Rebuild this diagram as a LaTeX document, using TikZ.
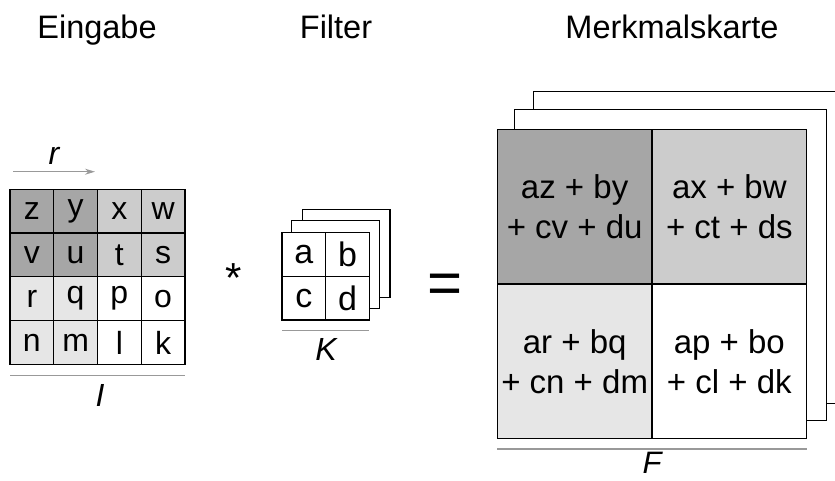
\documentclass[tikz,border=0pt]{standalone}
\usepackage{fontspec}
\setmainfont{Liberation Sans}
\usetikzlibrary{arrows.meta}
\definecolor{gdark}{HTML}{A6A6A6}
\definecolor{gmid}{HTML}{CCCCCC}
\definecolor{glight}{HTML}{E6E6E6}
\definecolor{rulegray}{HTML}{999999}
\tikzset{
  cellbox/.style={draw=black, line width=1.2pt, minimum width=#1, minimum height=#1,
    inner sep=0pt, anchor=center, font=\fontsize{32}{36}\selectfont},
  sheet/.style={draw=black, line width=1.2pt, fill=white},
  title/.style={font=\fontsize{32.5}{36}\selectfont, inner sep=0pt, anchor=base},
  dimlabel/.style={font=\fontsize{32}{36}\selectfont\itshape, inner sep=0pt, anchor=base},
  baseline rule/.style={draw=rulegray, line width=1.2pt},
  sumtext/.style={align=center, font=\fontsize{33}{40}\selectfont}
}
\begin{document}
\begin{tikzpicture}[x=1pt, y=-1pt]
\useasboundingbox (0,0) rectangle (835,481);
\clip (0,0) rectangle (835,481);

% headings
\node[title] (tin)  at (97,38.5) {Eingabe};
\node[title] (tfil) at (336,38.5) {Filter};
\node[title] (tout) at (672,38.5) {Merkmalskarte};

% ---- input I (4x4) ----
\def\cs{43.75}
\foreach \lab/\col/\r/\c in {z/gdark/0/0, y/gdark/0/1, x/gmid/0/2, w/gmid/0/3,
                             v/gdark/1/0, u/gdark/1/1, t/gmid/1/2, s/gmid/1/3,
                             r/glight/2/0, q/glight/2/1, p/white/2/2, o/white/2/3,
                             n/glight/3/0, m/glight/3/1, l/white/3/2, k/white/3/3}
  \node[cellbox=\cs pt, fill=\col] (in-\r-\c) at ({10+\cs*(\c+0.5)},{189.3+\cs*(\r+0.5)}) {\lab};

% stride arrow r
\coordinate (rs) at (13,171.7);
\coordinate (re) at (95,171.7);
\draw[draw=rulegray, line width=1.2pt, -{Stealth[length=10pt,width=6pt]}] (rs) -- (re);
\node[dimlabel] (rlab) at (54,165) {r};

% rule and label I
\coordinate (ia) at (10,375.7);
\coordinate (ib) at (185,375.7);
\draw[baseline rule] (ia) -- (ib);
\node[dimlabel] (ilab) at (100,406.5) {I};

% operator
\node[font=\fontsize{42}{42}\selectfont, inner sep=0pt] (star) at (234,278.5) {*};

% ---- filter K (stacked 2x2) ----
\draw[sheet] (302.3,209.3) rectangle (390,297.3);
\draw[sheet] (291.7,220.7) rectangle (379.3,308.3);
\def\ks{43.65}
\foreach \lab/\r/\c in {a/0/0, b/0/1, c/1/0, d/1/1}
  \node[cellbox=\ks pt, fill=white, font=\fontsize{34}{38}\selectfont] (k-\r-\c) at ({282+\ks*(\c+0.5)},{232.7+\ks*(\r+0.5)}) {\lab};

\coordinate (ka) at (282,330.7);
\coordinate (kb) at (369.3,330.7);
\draw[baseline rule] (ka) -- (kb);
\node[dimlabel] (klab) at (326,360) {K};

% equals sign
\node[font=\fontsize{60}{60}\selectfont, inner sep=0pt] (eq) at (445,289) {=};

% ---- feature map F (stacked 2x2) ----
\draw[sheet] (533.3,91.7) rectangle (845,403.3);
\draw[sheet] (514.3,109.3) rectangle (826.7,420.7);
\def\fs{154.7}
\node[cellbox=\fs pt, fill=gdark]  (f-0-0) at ({497.3+\fs*0.5},{129.3+\fs*0.5}) {};
\node[cellbox=\fs pt, fill=gmid]   (f-0-1) at ({497.3+\fs*1.5},{129.3+\fs*0.5}) {};
\node[cellbox=\fs pt, fill=glight] (f-1-0) at ({497.3+\fs*0.5},{129.3+\fs*1.5}) {};
\node[cellbox=\fs pt, fill=white]  (f-1-1) at ({497.3+\fs*1.5},{129.3+\fs*1.5}) {};
\node[sumtext] (s00) at (f-0-0) {az + by\\+ cv + du};
\node[sumtext] (s01) at (f-0-1) {ax + bw\\+ ct + ds};
\node[sumtext] (s10) at (f-1-0) {ar + bq\\+ cn + dm};
\node[sumtext] (s11) at (f-1-1) {ap + bo\\+ cl + dk};

\coordinate (fa) at (497.3,449);
\coordinate (fb) at (806.7,449);
\draw[baseline rule] (fa) -- (fb);
\node[dimlabel, font=\fontsize{31}{36}\selectfont\itshape] (flab) at (652,473) {F};
\end{tikzpicture}
\end{document}
